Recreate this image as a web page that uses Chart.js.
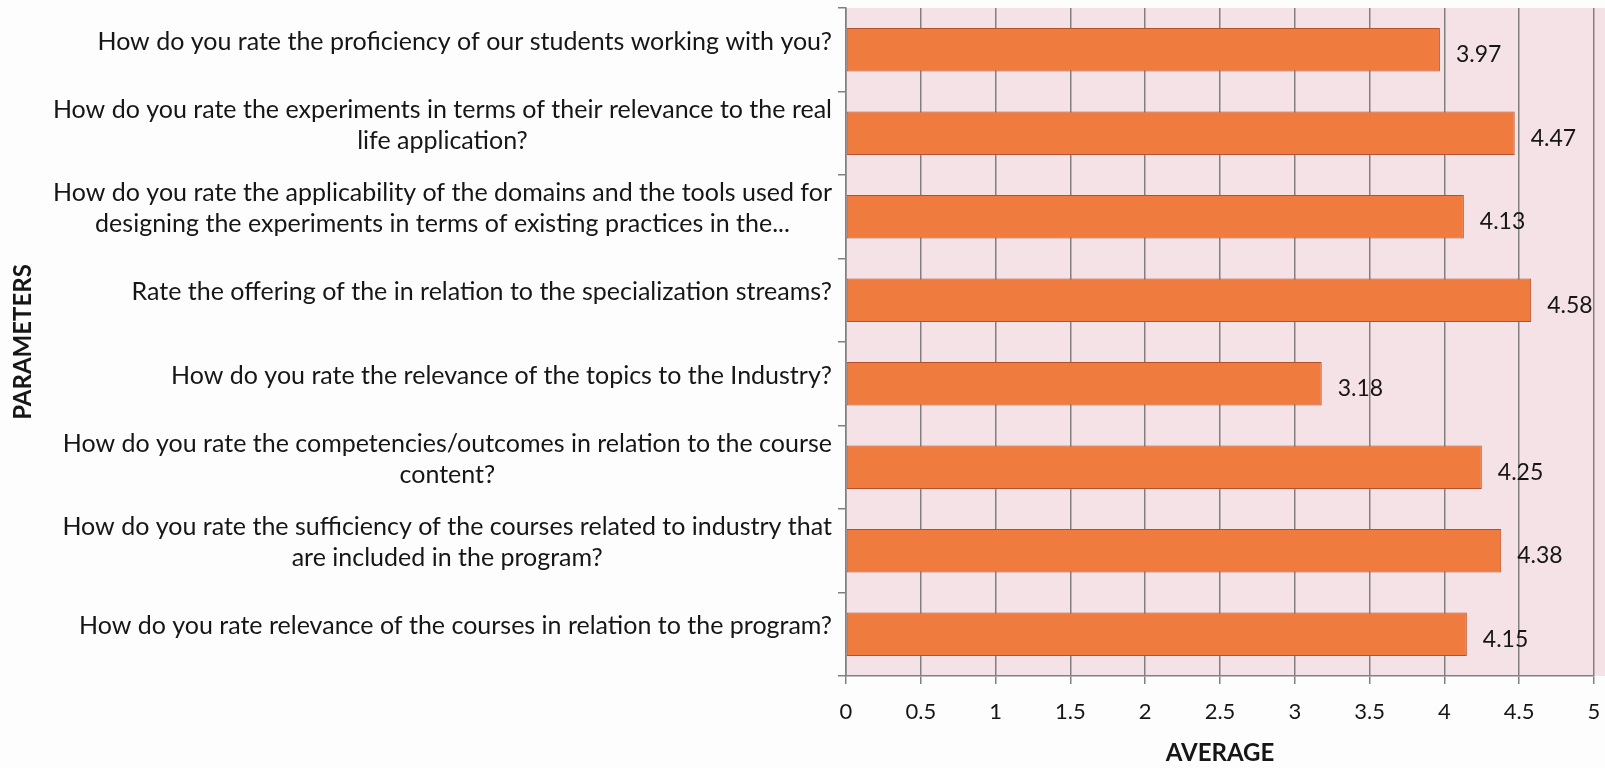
<!DOCTYPE html>
<html>
<head>
<meta charset="utf-8">
<script src="https://cdn.jsdelivr.net/npm/chart.js@4"></script>
<style>
  html, body { margin: 0; padding: 0; background: #fdfdfd; }
  #wrap { width: 1605px; height: 768px; }
</style>
</head>
<body>
<div id="wrap"><canvas id="myChart" width="1605" height="768"></canvas></div>
<script>
// chart data
var categories = [
    ['How do you rate the proficiency of our students working with you?'],
    ['How do you rate the experiments in terms of their relevance to the real', 'life application?'],
    ['How do you rate the applicability of the domains and the tools used for', 'designing the experiments in terms of existing practices in the...'],
    ['Rate the offering of the in relation to the specialization streams?'],
    ['How do you rate the relevance of the topics to the Industry?'],
    ['How do you rate the competencies/outcomes in relation to the course', 'content?'],
    ['How do you rate the sufficiency of the courses related to industry that', 'are included in the program?'],
    ['How do you rate relevance of the courses in relation to the program?']
];
var averages = [3.97, 4.47, 4.13, 4.58, 3.18, 4.25, 4.38, 4.15];
var xTickLabels = ['0', '0.5', '1', '1.5', '2', '2.5', '3', '3.5', '4', '4.5', '5'];

var FONT = 'Lato, "Liberation Sans", sans-serif';

// pink plot background
var plotBg = {
    id: 'plotBg',
    beforeDraw: function(chart) {
        var a = chart.chartArea, c = chart.ctx;
        c.save();
        c.fillStyle = '#f5e2e6';
        c.fillRect(a.left, a.top, chart.width - a.left, a.bottom - a.top);
        c.restore();
    }
};

// category labels (centered lines, right aligned blocks) + value labels
var textLayer = {
    id: 'textLayer',
    afterDraw: function(chart) {
        var c = chart.ctx;
        var y = chart.scales.y;
        c.save();
        c.fillStyle = '#161616';
        c.font = '25px ' + FONT;
        c.textBaseline = 'middle';
        c.textAlign = 'center';
        categories.forEach(function(lines, i) {
            var cy = y.getPixelForValue(i) - 8;
            var bw = Math.max.apply(null, lines.map(function(l) { return c.measureText(l).width; }));
            var cx = y.right - 14 - bw / 2;
            lines.forEach(function(l, j) {
                c.fillText(l, cx, cy + (j - (lines.length - 1) / 2) * 31);
            });
        });
        // values next to bars
        var meta = chart.getDatasetMeta(0);
        c.font = '23px ' + FONT;
        c.textAlign = 'left';
        meta.data.forEach(function(bar, i) {
            c.fillText(averages[i].toFixed(2), bar.x + 16, bar.y + 5);
        });
        c.restore();
    }
};

var ctx = document.getElementById('myChart').getContext('2d');
var myChart = new Chart(ctx, {
    type: 'bar',
    data: {
        labels: categories.map(function(l) { return l.join(' '); }),
        datasets: [{
            label: 'AVERAGE',
            data: averages,
            backgroundColor: '#ef7b3e',
            borderColor: '#b4502c',
            borderWidth: 1,
            borderSkipped: false,
            categoryPercentage: 1,
            barPercentage: 0.52
        }]
    },
    options: {
        indexAxis: 'y',
        responsive: false,
        animation: false,
        layout: { padding: { top: 8, right: 11, left: 0, bottom: 0 } },
        plugins: {
            legend: { display: false },
            tooltip: { enabled: false }
        },
        scales: {
            x: {
                min: 0,
                max: 5,
                ticks: {
                    stepSize: 0.5,
                    padding: 15,
                    color: '#161616',
                    font: { family: FONT, size: 22 },
                    callback: function(v, i) { return xTickLabels[i]; }
                },
                grid: { color: '#808080', lineWidth: 1.5, tickLength: 8 },
                border: { color: '#808080', width: 1.5 },
                title: {
                    display: true,
                    text: 'AVERAGE',
                    color: '#161616',
                    font: { family: FONT, size: 24, weight: 'bold' },
                    padding: { top: 0, bottom: 0 }
                },
                afterFit: function(scale) {
                    scale.height = 92;
                    scale.paddingRight = 0;
                    scale.paddingLeft = 0;
                }
            },
            y: {
                ticks: { display: false },
                grid: { drawOnChartArea: false, color: '#808080', lineWidth: 1.5, tickLength: 8 },
                border: { color: '#808080', width: 1.5 },
                title: {
                    display: true,
                    text: 'PARAMETERS',
                    color: '#161616',
                    font: { family: FONT, size: 24, weight: 'bold' },
                    padding: { top: 9, bottom: 0 }
                },
                afterFit: function(scale) { scale.width = 846; }
            }
        }
    },
    plugins: [plotBg, textLayer]
});
</script>
</body>
</html>
